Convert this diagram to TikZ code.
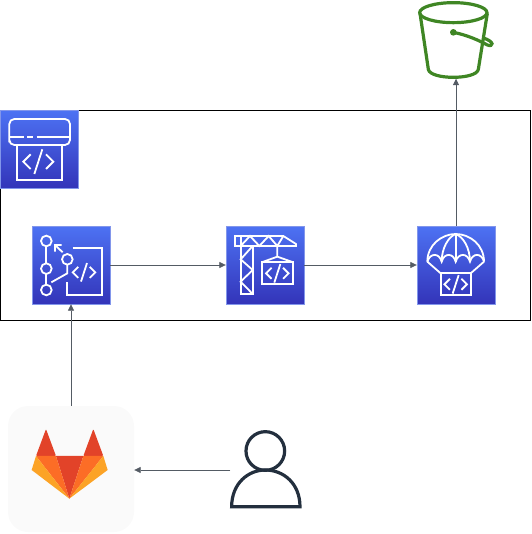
\documentclass[tikz,border=0pt]{standalone}
\usepackage{tikz}
\usetikzlibrary{arrows.meta}
\definecolor{awstop}{RGB}{77,114,243}
\definecolor{awsbottom}{RGB}{51,52,185}
\definecolor{awsedge}{RGB}{130,150,235}
\definecolor{linkgray}{RGB}{84,91,100}
\definecolor{bucketgreen}{RGB}{63,134,36}
\definecolor{usernavy}{RGB}{35,47,62}
\definecolor{labred}{RGB}{226,67,41}
\definecolor{laborange}{RGB}{252,109,38}
\definecolor{labyellow}{RGB}{252,163,38}
\tikzset{
 awsicon/.style={minimum size=78pt,inner sep=0pt,draw=awsedge,top color=awstop,bottom color=awsbottom},
 glyph/.style={draw=white,line width=1.8pt},
 link/.style={draw=linkgray,line width=0.8pt,-{Triangle[length=6.5pt,width=6pt]}},
 zoomed/.style={x=0.3333pt,y=-0.3333pt},
 codemark/.pic={
  \draw[glyph] (-23,-22) -- (-45,0) -- (-23,22);
  \draw[glyph] (12,-37) -- (-12,37);
  \draw[glyph] (23,-22) -- (45,0) -- (23,22);
 }
}
\begin{document}
\begin{tikzpicture}[x=1pt,y=-1pt]
 \useasboundingbox (0,0) rectangle (531,534);
 \node[draw=black,line width=1pt,minimum width=530pt,minimum height=209pt,inner sep=0pt] (stage) at (265.5,215.5) {};
 \node[awsicon] (pipeline) at (39,149.5) {};
 \node[awsicon] (commit) at (71,265) {};
 \node[awsicon] (build) at (265,265) {};
 \node[awsicon] (deploy) at (456,265) {};
 \node[minimum width=76pt,minimum height=77pt,inner sep=0pt] (bucket) at (456,40) {};
 \node[fill=black!2,rounded corners=20pt,minimum size=126pt,inner sep=0pt] (gitlab) at (71,469) {};
 \node[minimum width=71pt,minimum height=77pt,inner sep=0pt] (user) at (266,470) {};
 % pipeline
 \begin{scope}[shift={(0,105)},zoomed]
  \draw[glyph,rounded corners=5pt] (28,97) -- (28,42) -- (210,42) -- (210,120) -- (28,120) -- cycle;
  \draw[glyph] (28,97) -- (72,97) (82,97) -- (100,97) (110,97) -- (210,97);
  \draw[glyph] (52,120) -- (52,225) -- (185,225) -- (185,120);
  \pic at (115,170) {codemark};
 \end{scope}
 % commit
 \begin{scope}[shift={(0,105)},zoomed]
  \draw[glyph] (139,408) circle (16) (139,491) circle (16) (139,555) circle (16) (202,463) circle (16);
  \draw[glyph] (139,424) -- (139,475) (139,507) -- (139,539);
  \draw[glyph] (202,479) -- (202,505) -- (154,532);
  \draw[glyph] (188,442) -- (165,420) (165,440) -- (165,420) -- (185,420);
  \draw[glyph] (218,428) -- (305,428) -- (305,570) -- (202,570) -- (202,532);
  \pic[scale=0.75] at (252,502) {codemark};
 \end{scope}
 % build
 \begin{scope}[shift={(220,220)},zoomed]
  \draw[glyph] (44,48) rectangle (62,78);
  \draw[glyph] (62,48) -- (190,48) -- (228,72) -- (228,78) -- (62,78);
  \draw[glyph] (62,78) -- (90,48) -- (118,78) -- (146,48) -- (172,78) -- (190,48);
  \draw[glyph] (62,78) -- (62,222) -- (98,222) -- (98,78);
  \draw[glyph] (98,78) -- (62,118) -- (98,150) -- (62,185) -- (98,222);
  \draw[glyph] (172,78) -- (172,110) (125,127) -- (172,110) -- (220,127);
  \draw[glyph] (125,127) rectangle (220,192);
  \pic[scale=0.75] at (172,160) {codemark};
 \end{scope}
 % deploy
 \begin{scope}[shift={(410,220)},zoomed]
  \draw[glyph] (52,125) .. controls (52,75) and (95,42) .. (137,42) .. controls (180,42) and (222,75) .. (222,125);
  \draw[glyph] (52,125) .. controls (60,98) and (88,98) .. (95,125) .. controls (102,98) and (130,98) .. (137,125) .. controls (145,98) and (172,98) .. (180,125) .. controls (187,98) and (215,98) .. (222,125);
  \draw[glyph] (95,125) .. controls (95,85) and (115,50) .. (137,42) .. controls (160,50) and (180,85) .. (180,125);
  \draw[glyph] (137,42) -- (137,125);
  \draw[glyph] (52,125) -- (92,160) (222,125) -- (182,160);
  \draw[glyph] (92,160) rectangle (182,225);
  \pic[scale=0.75] at (137,193) {codemark};
 \end{scope}
 % bucket
 \begin{scope}[shift={(410,0)},zoomed,bucketgreen,line width=3.2pt]
  \draw (130,38) ellipse (101 and 30);
  \draw (30,40) -- (55,208) .. controls (60,240) and (200,240) .. (205,208) -- (232,40);
  \fill (130,97) circle (10);
  \draw (130,97) .. controls (170,105) and (205,120) .. (232,135) .. controls (250,142) and (255,125) .. (220,114);
 \end{scope}
 % gitlab
 \begin{scope}[shift={(0,400)},zoomed]
  \fill[labred,rounded corners=1pt] (138,87) -- (108,168) -- (168,168) -- cycle;
  \fill[labred,rounded corners=1pt] (280,87) -- (250,168) -- (310,168) -- cycle;
  \fill[labred] (168,168) -- (250,168) -- (208,296) -- cycle;
  \fill[laborange] (108,168) -- (168,168) -- (208,296) -- cycle;
  \fill[laborange] (250,168) -- (310,168) -- (208,296) -- cycle;
  \fill[labyellow] (108,168) -- (95,210) -- (208,296) -- cycle;
  \fill[labyellow] (310,168) -- (323,210) -- (208,296) -- cycle;
 \end{scope}
 % user
 \begin{scope}[shift={(130,425)},zoomed,usernavy,line width=3.2pt]
  \draw (406,78) circle (58);
  \draw (305,245) .. controls (305,175) and (355,135) .. (406,135) .. controls (460,135) and (510,175) .. (510,245) -- cycle;
 \end{scope}
 \draw[link] (commit) -- (build);
 \draw[link] (build) -- (deploy);
 \draw[link] (deploy) -- (bucket);
 \draw[link] (gitlab.north -| commit) -- (commit);
 \draw[link] (user) -- (gitlab.east |- user);
\end{tikzpicture}
\end{document}
